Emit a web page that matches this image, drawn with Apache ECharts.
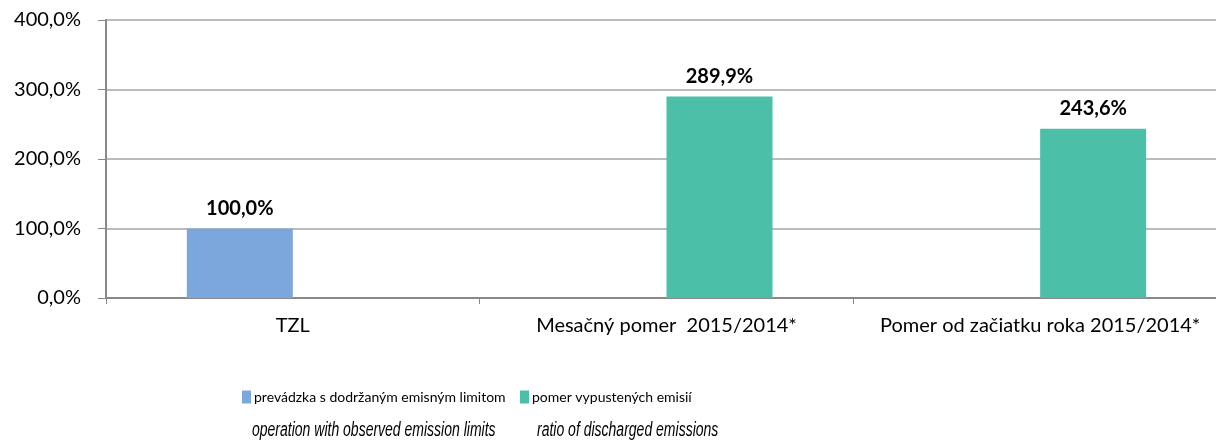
<!DOCTYPE html>
<html>
<head>
<meta charset="utf-8">
<script src="https://cdn.jsdelivr.net/npm/echarts@6/dist/echarts.min.js"></script>
<style>
  html, body { margin: 0; padding: 0; background: #fff; overflow: hidden; }
  #chart { width: 1227px; height: 443px; }
</style>
</head>
<body>
<div id="chart"></div>
<script>
// kategórie a hodnoty
var categories = ['TZL', 'Mesačný pomer  2015/2014*', 'Pomer od začiatku roka 2015/2014*'];
var seriesNames = ['prevádzka s dodržaným emisným limitom', 'pomer vypustených emisií'];
var englishNames = ['operation with observed emission limits', 'ratio of discharged emissions'];
var limitValues = [100.0, null, null];
var ratioValues = [null, 289.9, 243.6];
var yTicks = [0, 100, 200, 300, 400];

function pct(v) {
  return v.toFixed(1).replace('.', ',') + '%';
}

var barLabel = {
  show: true,
  position: 'top',
  distance: 9,
  fontFamily: 'Lato',
  fontWeight: 'bold',
  fontSize: 20,
  color: '#000',
  backgroundColor: '#fff',
  padding: [1, 6],
  formatter: function (p) { return pct(p.value); }
};

var legendText = { fontSize: 14, color: '#000', fontFamily: 'Lato', padding: [0, 0, 0, -2] };

// graf je širší ako okno, pravý okraj mriežky je orezaný ako v originále
var myChart = echarts.init(document.getElementById('chart'));
var option = {
  animation: false,
  textStyle: { fontFamily: 'Lato' },
  grid: { left: 106, right: 0, top: 20, bottom: 145, containLabel: false },
  xAxis: {
    type: 'category',
    data: categories,
    axisLine: { lineStyle: { color: '#898989', width: 2 } },
    axisTick: { show: true, length: 6, alignWithLabel: false, lineStyle: { color: '#898989' } },
    axisLabel: { color: '#000', fontSize: 20, margin: 18, fontFamily: 'Lato', interval: 0 }
  },
  yAxis: {
    type: 'value',
    min: yTicks[0],
    max: yTicks[yTicks.length - 1],
    interval: 100,
    axisLine: { show: true, lineStyle: { color: '#898989', width: 2 } },
    axisTick: { show: true, length: 8, lineStyle: { color: '#898989' } },
    axisLabel: { color: '#000', fontSize: 20, margin: 25, fontFamily: 'Lato', formatter: pct },
    splitLine: { lineStyle: { color: '#a6a6a6', width: 1.5 } }
  },
  legend: [
    {
      left: 242, top: 390, padding: 0,
      itemWidth: 9, itemHeight: 13, itemGap: 4,
      icon: 'rect',
      textStyle: legendText,
      data: [seriesNames[0]]
    },
    {
      left: 520, top: 390, padding: 0,
      itemWidth: 9, itemHeight: 13, itemGap: 4,
      icon: 'rect',
      textStyle: legendText,
      data: [seriesNames[1]]
    }
  ],
  graphic: [
    {
      type: 'text', left: 252, top: 420, scaleX: 0.70,
      style: { text: englishNames[0], font: 'italic 20px "Liberation Sans"', fill: '#000' }
    },
    {
      type: 'text', left: 537, top: 420, scaleX: 0.70,
      style: { text: englishNames[1], font: 'italic 20px "Liberation Sans"', fill: '#000' }
    }
  ],
  series: [
    {
      name: seriesNames[0],
      type: 'bar',
      data: limitValues,
      barWidth: 106,
      barGap: 0,
      itemStyle: { color: '#7ba7dc' },
      label: barLabel
    },
    {
      name: seriesNames[1],
      type: 'bar',
      data: ratioValues,
      barWidth: 106,
      barGap: 0,
      itemStyle: { color: '#4bbfa8' },
      label: barLabel
    }
  ]
};
myChart.setOption(option, true);
</script>
</body>
</html>
